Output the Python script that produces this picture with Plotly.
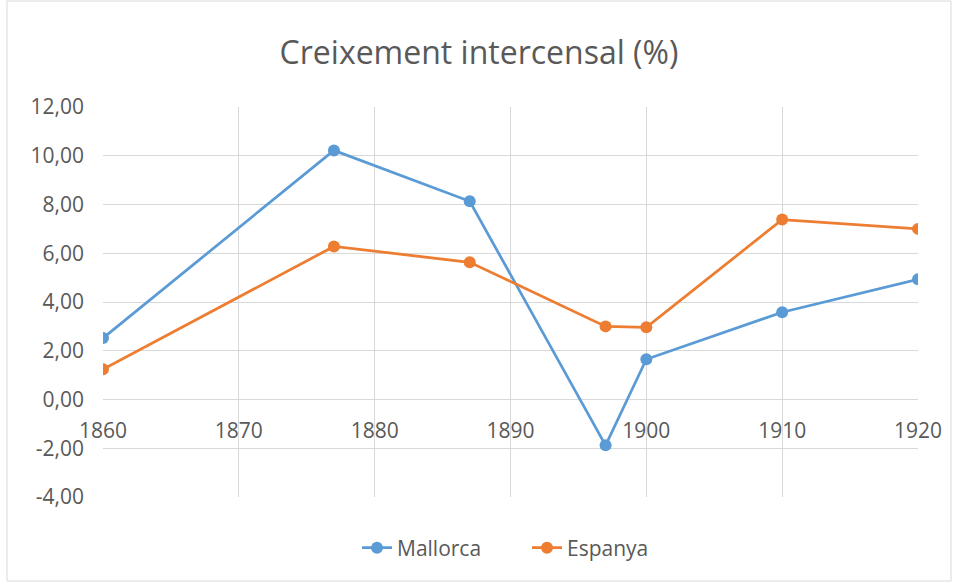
import plotly.graph_objects as go

years = [1860, 1877, 1887, 1897, 1900, 1910, 1920]
mallorca = [2.52, 10.22, 8.13, -1.88, 1.65, 3.58, 4.93]
espanya = [1.24, 6.28, 5.63, 3.0, 2.96, 7.38, 7.0]
x_ticks = [1860, 1870, 1880, 1890, 1900, 1910, 1920]
y_ticks = [-4, -2, 0, 2, 4, 6, 8, 10, 12]
y_labels = ["-4,00", "-2,00", "0,00", "2,00", "4,00", "6,00", "8,00", "10,00", "12,00"]

fig = go.Figure()
fig.add_trace(go.Scatter(x=years, y=mallorca, name="Mallorca", mode="lines+markers",
                         line=dict(color="#5B9BD5", width=2.75),
                         marker=dict(color="#5B9BD5", size=12)))
fig.add_trace(go.Scatter(x=years, y=espanya, name="Espanya", mode="lines+markers",
                         line=dict(color="#ED7D31", width=2.75),
                         marker=dict(color="#ED7D31", size=12)))

ymin, ymax = -4, 12
fig.update_layout(
    width=958, height=583,
    margin=dict(l=103, r=40, t=107, b=86),
    paper_bgcolor="white", plot_bgcolor="white",
    font=dict(family="Open Sans", color="#595959", size=21),
    title=dict(text="Creixement intercensal (%)", x=0.5, xanchor="center",
               y=1 - 53 / 583, yanchor="middle",
               font=dict(size=32, color="#595959", family="Open Sans")),
    xaxis=dict(range=[1860, 1920], tickvals=x_ticks, tickformat="d",
               showgrid=True, gridcolor="#D9D9D9", gridwidth=1,
               zeroline=False, showline=False, ticks="",
               anchor="free", position=(0 - ymin) / (ymax - ymin),
               ticklabelstandoff=16,
               tickfont=dict(size=21, color="#595959", family="Open Sans")),
    yaxis=dict(range=[ymin, ymax], tickvals=y_ticks, ticktext=y_labels,
               showgrid=True, gridcolor="#D9D9D9", gridwidth=1,
               zeroline=False, showline=False, ticks="", ticklabelstandoff=18,
               domain=[0, 1],
               tickfont=dict(size=21, color="#595959", family="Open Sans")),
    legend=dict(orientation="h", x=(527 - 103) / 815, xanchor="center",
                y=-(548 - 497) / 390, yanchor="middle",
                entrywidth=125, entrywidthmode="pixels",
                font=dict(size=21, color="#595959", family="Open Sans")),
    shapes=[dict(type="rect", xref="paper", yref="paper",
                 x0=(7 - 103) / 815, x1=(951 - 103) / 815,
                 y0=(497 - 581) / 390, y1=(497 - 1) / 390,
                 line=dict(color="#D9D9D9", width=1), layer="below")],
)
fig.write_html("out.html", config={"displayModeBar": False},
               post_script="document.body.style.margin='0';")
